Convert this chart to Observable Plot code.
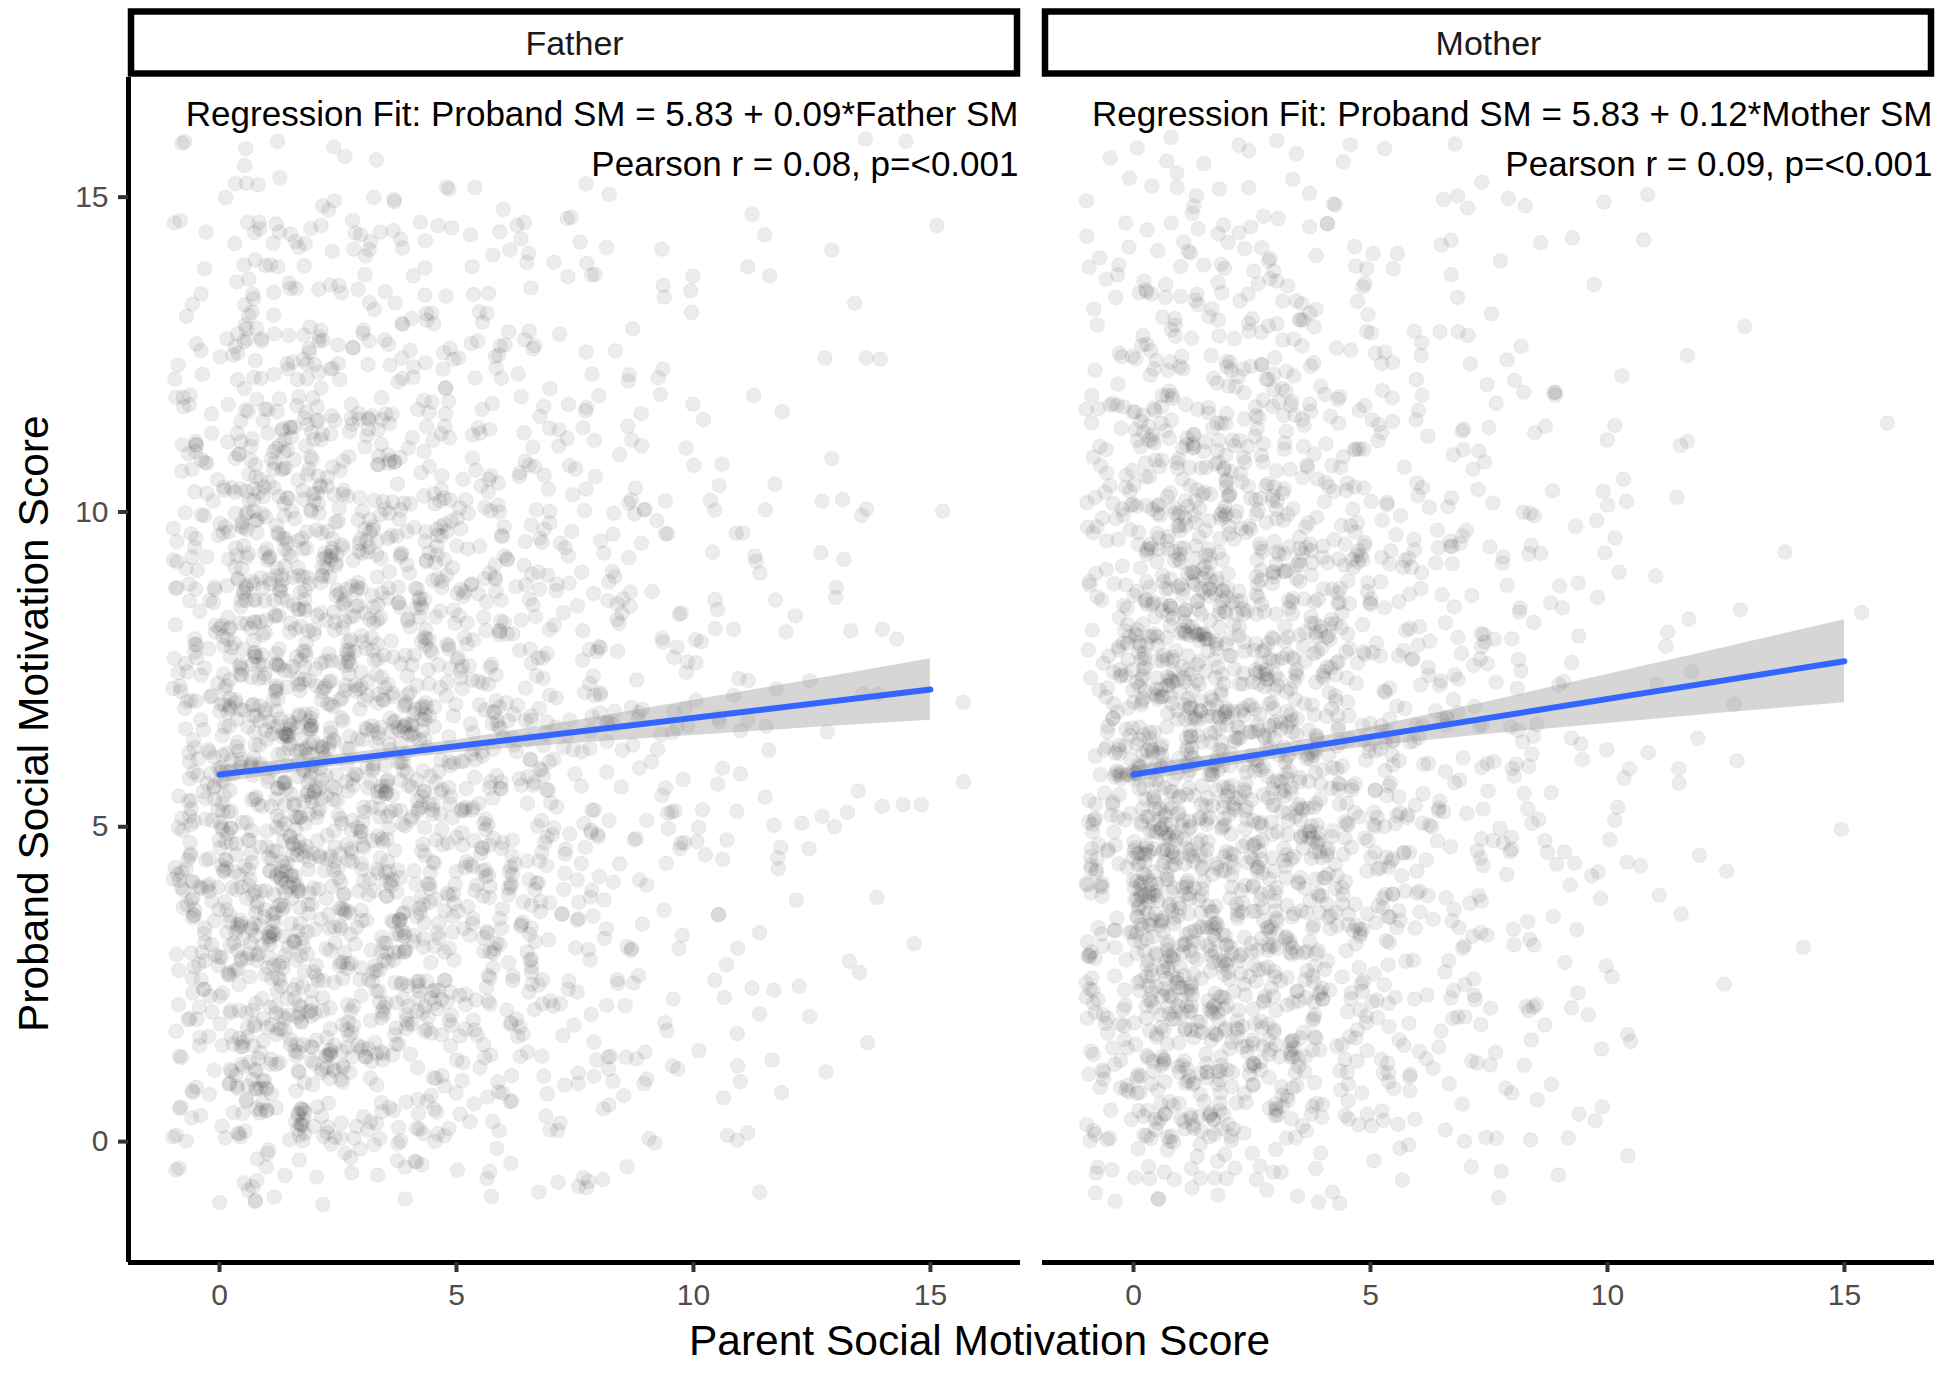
<!DOCTYPE html>
<html>
<head>
<meta charset="utf-8">
<script src="https://cdn.jsdelivr.net/npm/d3@7"></script>
<script src="https://cdn.jsdelivr.net/npm/@observablehq/plot@0.6"></script>
<style>
  html, body { margin: 0; padding: 0; background: #ffffff; }
  #chart svg { display: block; }
</style>
</head>
<body>
<div id="chart"></div>
<script>
// ---------------- data ----------------
const parents = ["Father", "Mother"];
const xTicks = [0, 5, 10, 15];
const yTicks = [0, 5, 10, 15];
const xTitle = "Parent Social Motivation Score";
const yTitle = "Proband Social Motivation Score";

// estimated number of families per (parent score, proband score) cell
// rows: proband score 15 down to 0; columns: parent score 0..15
const fatherCounts = [
  [ 6, 7, 6, 5, 5, 4, 3, 2, 2, 1, 1, 1, 0, 0, 1, 1],
  [ 8, 9, 8, 7, 6, 5, 4, 3, 2, 2, 1, 1, 1, 1, 0, 1],
  [11,12,10, 9, 8, 7, 5, 4, 3, 2, 2, 1, 1, 0, 1, 0],
  [15,17,15,13,12,10, 7, 6, 4, 3, 2, 2, 1, 1, 0, 0],
  [19,22,19,17,15,13, 9, 7, 5, 4, 3, 2, 1, 1, 1, 0],
  [23,26,23,20,18,15,11, 9, 6, 5, 4, 3, 2, 1, 1, 1],
  [27,30,27,24,21,17,13,10, 7, 6, 4, 3, 2, 1, 1, 0],
  [30,34,30,27,24,19,15,11, 8, 6, 5, 3, 2, 2, 1, 1],
  [33,37,33,30,26,21,16,12, 9, 7, 5, 3, 2, 1, 1, 1],
  [34,38,34,31,27,22,17,12, 9, 7, 5, 4, 2, 2, 1, 1],
  [35,39,35,31,27,22,17,12, 9, 7, 5, 3, 2, 1, 1, 1],
  [34,38,34,30,26,21,16,12, 8, 6, 5, 3, 2, 1, 1, 0],
  [32,36,32,28,24,19,14,10, 7, 5, 4, 3, 2, 1, 1, 1],
  [28,32,28,24,20,16,12, 9, 6, 5, 3, 2, 1, 1, 0, 0],
  [22,26,22,19,16,13,10, 7, 5, 4, 3, 2, 1, 1, 0, 0],
  [16,20,16,13,11, 9, 7, 5, 4, 3, 2, 1, 1, 0, 0, 0]
];
const motherCounts = [
  [ 7, 7, 6, 5, 5, 3, 2, 2, 1, 1, 1, 1, 0, 0, 0, 0],
  [ 9,10, 8, 7, 6, 4, 3, 2, 2, 1, 1, 0, 0, 0, 0, 0],
  [12,13,11, 9, 8, 5, 4, 3, 2, 1, 1, 1, 0, 1, 0, 0],
  [17,18,15,13,11, 7, 5, 4, 3, 2, 1, 1, 0, 0, 0, 1],
  [21,23,19,16,13, 9, 6, 5, 3, 2, 2, 1, 1, 0, 0, 0],
  [26,28,23,20,16,11, 8, 6, 4, 3, 2, 1, 1, 0, 0, 0],
  [31,33,27,23,19,13, 9, 7, 5, 3, 2, 1, 1, 1, 0, 1],
  [35,37,31,26,21,15,10, 7, 5, 4, 2, 2, 1, 0, 0, 0],
  [38,41,34,28,23,16,11, 8, 5, 4, 3, 2, 1, 0, 0, 0],
  [40,43,36,30,24,17,11, 8, 6, 4, 3, 2, 1, 1, 0, 0],
  [42,45,37,31,25,17,12, 8, 6, 4, 3, 2, 1, 0, 0, 1],
  [41,44,36,30,24,16,11, 8, 5, 4, 3, 2, 1, 0, 1, 0],
  [39,42,34,28,22,15,10, 7, 5, 3, 2, 1, 1, 0, 0, 0],
  [34,37,30,25,19,13, 9, 6, 4, 3, 2, 1, 1, 0, 0, 0],
  [27,30,24,20,15,10, 7, 5, 3, 2, 2, 1, 0, 0, 0, 0],
  [20,23,18,15,11, 8, 5, 4, 3, 2, 1, 1, 0, 0, 0, 0]
];

// regression fits (from the chart's annotations)
const fitIntercept = [5.83, 5.83];
const fitSlope = [0.09, 0.12];
const fitRange = [0, 15];
// confidence band half-widths read at these parent scores
const bandX = [0, 2.5, 5, 7.5, 10, 12.5, 15];
const fatherBandHalf = [0.13, 0.09, 0.10, 0.18, 0.28, 0.38, 0.49];
const motherBandHalf = [0.13, 0.10, 0.15, 0.26, 0.39, 0.52, 0.66];

const regressionLabels = [
  "Regression Fit: Proband SM = 5.83 + 0.09*Father SM",
  "Regression Fit: Proband SM = 5.83 + 0.12*Mother SM"
];
const pearsonLabels = [
  "Pearson r = 0.08, p=<0.001",
  "Pearson r = 0.09, p=<0.001"
];

// ---------------- build tables ----------------
function makeJitter(seed) {
  let a = seed >>> 0;
  return () => {
    a = (a + 0x6D2B79F5) >>> 0;
    let t = a;
    t = Math.imul(t ^ (t >>> 15), t | 1);
    t ^= t + Math.imul(t ^ (t >>> 7), t | 61);
    return ((t ^ (t >>> 14)) >>> 0) / 4294967296;
  };
}
const jit = makeJitter(918273);
const jitterWidth = 1.0, jitterHeight = 1.0;
const countsByParent = {Father: fatherCounts, Mother: motherCounts};
const points = [];
for (const p of parents) {
  countsByParent[p].forEach((row, r) => {
    const y = 15 - r;
    row.forEach((n, x) => {
      for (let k = 0; k < n; k++) {
        points.push({
          parent: p,
          x: x + (jit() * 2 - 1) * jitterWidth,
          y: y + (jit() * 2 - 1) * jitterHeight
        });
      }
    });
  });
}

const fits = [];
const band = [];
parents.forEach((p, i) => {
  fitRange.forEach(x => fits.push({parent: p, x, y: fitIntercept[i] + fitSlope[i] * x}));
  const half = i === 0 ? fatherBandHalf : motherBandHalf;
  bandX.forEach((x, j) => {
    const m = fitIntercept[i] + fitSlope[i] * x;
    band.push({parent: p, x, lo: m - half[j], hi: m + half[j]});
  });
});
const annot = parents.map((p, i) => ({parent: p, reg: regressionLabels[i], pear: pearsonLabels[i]}));

// ---------------- chart ----------------
const W = 1950, H = 1374;
const mL = 128, mR = 16, mT = 77, mB = 112;
const xDomain = [-1.92, 16.9];
const yDomain = [-1.92, 16.9];
const font = "'Liberation Sans', Arial, Helvetica, sans-serif";

const chart = Plot.plot({
  width: W,
  height: H,
  marginLeft: mL,
  marginRight: mR,
  marginTop: mT,
  marginBottom: mB,
  style: {fontFamily: font, background: "#ffffff", color: "#4D4D4D", overflow: "visible"},
  fx: {domain: parents, paddingInner: 44 / 1828, paddingOuter: 0, axis: null, label: null},
  x: {domain: xDomain, label: null},
  y: {domain: yDomain, label: null},
  marks: [
    Plot.dot(points, {
      fx: "parent", x: "x", y: "y", r: 7.3,
      fill: "#000000", fillOpacity: 0.075,
      stroke: "#000000", strokeOpacity: 0.04, strokeWidth: 1.4
    }),
    Plot.areaY(band, {fx: "parent", x: "x", y1: "lo", y2: "hi", fill: "#999999", fillOpacity: 0.4}),
    Plot.line(fits, {fx: "parent", x: "x", y: "y", stroke: "#3366FF", strokeWidth: 6}),
    Plot.ruleX([parents[0]], {fx: d => d, x: () => xDomain[0], stroke: "#000000", strokeWidth: 5}),
    Plot.ruleY(parents, {fx: d => d, y: () => yDomain[0], stroke: "#000000", strokeWidth: 5}),
    Plot.axisX({ticks: xTicks, tickSize: 10, tickPadding: 11, fontSize: 30, stroke: "#333333", strokeWidth: 4, fill: "#4D4D4D", label: null}),
    Plot.axisY({ticks: yTicks, tickSize: 10, tickPadding: 10, fontSize: 30, stroke: "#333333", strokeWidth: 4, fill: "#4D4D4D", label: null}),
    // facet strips
    Plot.rect(parents, {
      fx: d => d, fill: "#ffffff", stroke: "#000000", strokeWidth: 6.5,
      insetTop: -65.5, insetBottom: 1188.5, insetLeft: 3, insetRight: 3
    }),
    Plot.text(parents, {
      fx: d => d, text: d => d, frameAnchor: "top", lineAnchor: "middle",
      dy: -33.5, fontSize: 34, fill: "#1A1A1A"
    }),
    // annotations
    Plot.text(annot, {
      fx: "parent", text: "reg", frameAnchor: "top-right", textAnchor: "end",
      lineAnchor: "middle", dx: -2, dy: 37.5, fontSize: 35, fill: "#000000"
    }),
    Plot.text(annot, {
      fx: "parent", text: "pear", frameAnchor: "top-right", textAnchor: "end",
      lineAnchor: "middle", dx: -2, dy: 87.5, fontSize: 35, fill: "#000000"
    }),
    // axis titles (attached to the first facet, offset to their places)
    Plot.text([parents[0]], {
      fx: d => d, text: () => xTitle, frameAnchor: "bottom", lineAnchor: "middle",
      dx: 405, dy: 79, fontSize: 42.5, fill: "#000000"
    }),
    Plot.text([parents[0]], {
      fx: d => d, text: () => yTitle, frameAnchor: "left", lineAnchor: "middle",
      rotate: -90, dx: -94, dy: 362, fontSize: 42.5, fill: "#000000"
    })
  ]
});
document.getElementById("chart").appendChild(chart);
</script>
</body>
</html>
